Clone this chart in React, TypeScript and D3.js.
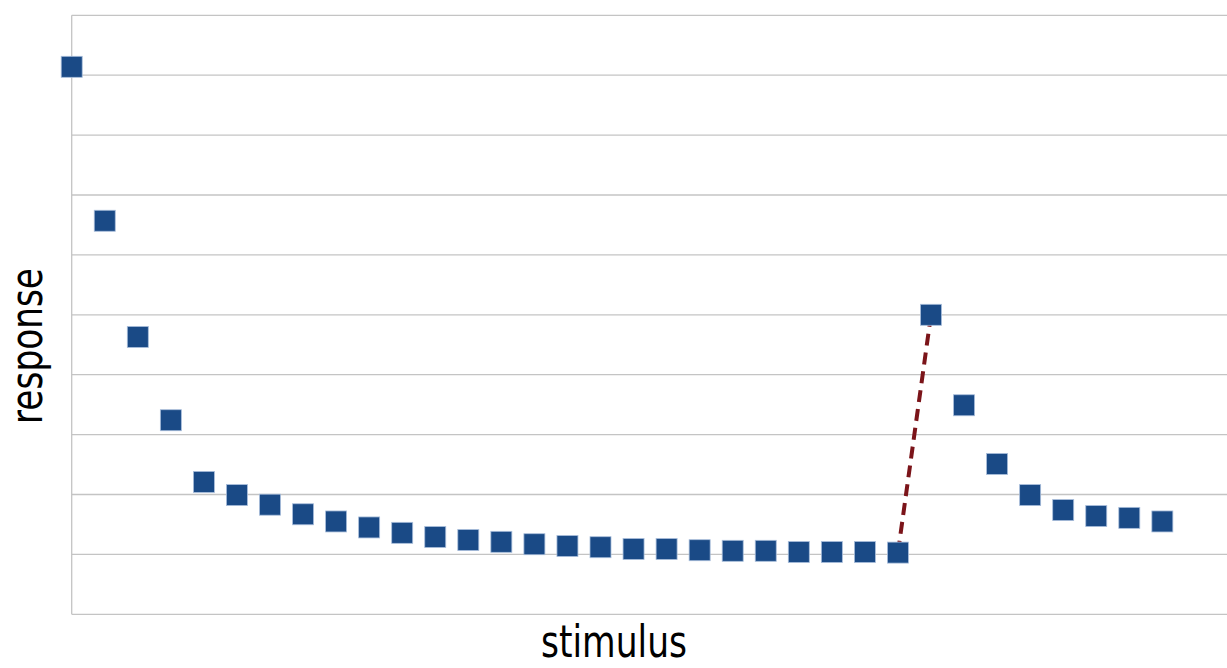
import React from "react";
import * as d3 from "d3";

const stimulusIndex: number[] = Array.from({ length: 34 }, (_, i) => i);
const responseValues: number[] = [
  9.14, 6.57, 4.63, 3.24, 2.21, 1.99, 1.83, 1.67, 1.55, 1.45,
  1.36, 1.29, 1.24, 1.21, 1.17, 1.14, 1.12, 1.09, 1.09, 1.07,
  1.06, 1.06, 1.04, 1.04, 1.04, 1.03, 5.0, 3.49, 2.51, 1.99,
  1.74, 1.64, 1.61, 1.55,
];
const jumpFrom = 25;
const jumpTo = 26;
const yTicks: number[] = [0, 1, 2, 3, 4, 5, 6, 7, 8, 9, 10];
const xLabel = "stimulus";
const yLabel = "response";

const W = 1227;
const H = 668;

export default function App() {
  const x = d3.scaleLinear().domain([0, 35]).range([71.7, 71.7 + 35 * 33.05]);
  const y = d3.scaleLinear().domain([0, 10]).range([614.3, 15.3]);
  const ms = 21;
  const font = "'DejaVu Sans', sans-serif";
  const line = d3
    .line<number>()
    .x((i) => x(stimulusIndex[i]))
    .y((i) => y(responseValues[i]));
  return (
    <svg
      width={W}
      height={H}
      style={{ position: "absolute", left: 0, top: 0, background: "#fff" }}
    >
      {yTicks.map((t) => (
        <line
          key={t}
          x1={x(0)}
          x2={W}
          y1={y(t)}
          y2={y(t)}
          stroke="#c4c4c4"
          strokeWidth={1.3}
        />
      ))}
      <line x1={x(0)} x2={x(0)} y1={y(10)} y2={y(0)} stroke="#c4c4c4" strokeWidth={1.3} />
      <path
        d={line([jumpFrom, jumpTo]) || ""}
        fill="none"
        stroke="#7b1419"
        strokeWidth={4}
        strokeDasharray="12 7"
      />
      {stimulusIndex.map((s, i) => (
        <rect
          key={i}
          x={x(s) - ms / 2}
          y={y(responseValues[i]) - ms / 2}
          width={ms}
          height={ms}
          fill="#1a4a86"
          stroke="#a9bedb"
          strokeWidth={0.8}
        />
      ))}
      <text
        x={614}
        y={657}
        textAnchor="middle"
        fontFamily={font}
        fontSize={44}
        textLength={146}
        lengthAdjust="spacingAndGlyphs"
        fill="#000"
      >
        {xLabel}
      </text>
      <text
        transform={`translate(42,346) rotate(-90)`}
        textAnchor="middle"
        fontFamily={font}
        fontSize={44}
        textLength={156}
        lengthAdjust="spacingAndGlyphs"
        fill="#000"
      >
        {yLabel}
      </text>
    </svg>
  );
}
